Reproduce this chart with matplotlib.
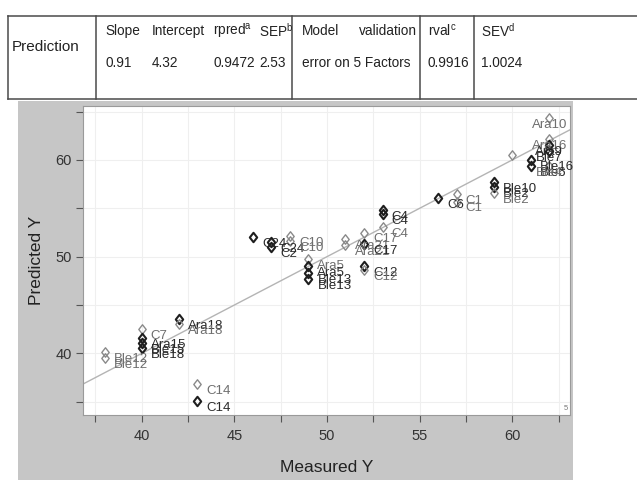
import matplotlib
matplotlib.use("Agg")
import matplotlib.pyplot as plt
from matplotlib.lines import Line2D
from matplotlib.patches import Rectangle
from matplotlib.path import Path
from matplotlib.ticker import MultipleLocator

W, H = 637, 480

# table above the plot
TABLE_HEAD = ["Slope", "Intercept", r"rpred$^{\rm a}$", r"SEP$^{\rm b}$"]
TABLE_VALS = ["0.91", "4.32", "0.9472", "2.53"]
VALID_HEAD = ["Model", "validation"]
VALID_TEXT = "error on 5 Factors"
RVAL_HEAD = r"rval$^{\rm c}$"
RVAL_VAL = "0.9916"
SEV_HEAD = r"SEV$^{\rm d}$"
SEV_VAL = "1.0024"

# scatter points: measured, predicted, sample label, group
MEASURED = [38, 38, 40, 40, 40, 40, 42, 42, 43, 43,
            46, 47, 47, 48, 48, 49, 49, 49, 49, 51, 51,
            52, 52, 52, 52, 53, 53, 53,
            56, 57, 57, 59, 59, 59, 60,
            62, 62, 62, 62, 61, 61, 62]
PREDICTED = [40.1, 39.5, 42.5, 41.6, 41.1, 40.6, 43.6, 43.0, 36.8, 35.1,
             52.0, 51.5, 51.0, 52.1, 51.6, 49.8, 49.0, 48.3, 47.7, 51.8, 51.2,
             52.5, 51.3, 49.0, 48.6, 54.8, 54.4, 53.1,
             56.1, 56.5, 55.7, 57.7, 57.2, 56.6, 60.5,
             64.3, 62.2, 61.5, 60.9, 60.0, 59.4, 59.4]
LABELS = ["Ble12", "Ble12", "C7", "Ara15", "Ble15", "Ble18", "Ara18", "Ara18", "C14", "C14",
          "C24", "C24", "C2", "C10", "C10", "Ara5", "Ara5", "Ble13", "Ble13", "Ara21", "Ara21",
          "C17", "C17", "C12", "C12", "C4", "C4", "C4",
          "C6", "C1", "C1", "Ble10", "Ble2", "Ble2", "",
          "Ara10", "Ara16", "Ara9", "Ble7", "Ble16", "Ble6", "Ble4"]
GROUP = ["light", "light", "light", "dark", "dark", "dark", "dark", "light", "light", "dark",
         "dark", "dark", "dark", "light", "light", "light", "dark", "dark", "dark", "light", "light",
         "light", "dark", "dark", "light", "dark", "dark", "light",
         "dark", "light", "light", "dark", "dark", "light", "light",
         "light", "light", "dark", "dark", "dark", "dark", "light"]

STYLE = {
    "dark": dict(edge="#1e1e1e", lw=1.5, text="#2a2a2a"),
    "light": dict(edge="#8a8a8a", lw=1.0, text="#6e6e6e"),
}


def fig_xy(x, y):
    return x / W, 1 - y / H


def hline(fig, x0, x1, y):
    a, b = fig_xy(x0, y), fig_xy(x1, y)
    fig.add_artist(Line2D([a[0], b[0]], [a[1], b[1]], color="#4a4a4a", lw=1.1))


def vline(fig, x, y0, y1):
    a, b = fig_xy(x, y0), fig_xy(x, y1)
    fig.add_artist(Line2D([a[0], b[0]], [a[1], b[1]], color="#4a4a4a", lw=1.1))


def draw_table(fig):
    top, bottom = 16, 99
    hline(fig, 8, W, top)
    hline(fig, 8, W, bottom)
    for x in [8, 96, 292, 420, 474]:
        vline(fig, x, top, bottom)

    kw = dict(fontsize=9.8, color="#222222", va="center")
    r1, r2 = 31, 63
    fig.text(*fig_xy(12, 47), "Prediction", ha="left", fontsize=11, color="#222222", va="center")
    for x, head, val in zip([105, 152, 213, 259], TABLE_HEAD, TABLE_VALS):
        fig.text(*fig_xy(x, r1), head, ha="left", **kw)
        fig.text(*fig_xy(x, r2), val, ha="left", **kw)
    fig.text(*fig_xy(302, r1), VALID_HEAD[0], ha="left", **kw)
    fig.text(*fig_xy(417, r1), VALID_HEAD[1], ha="right", **kw)
    fig.text(*fig_xy(302, r2), VALID_TEXT, ha="left", **kw)
    fig.text(*fig_xy(428, r1), RVAL_HEAD, ha="left", **kw)
    fig.text(*fig_xy(428, r2), RVAL_VAL, ha="left", **kw)
    fig.text(*fig_xy(481, r1), SEV_HEAD, ha="left", **kw)
    fig.text(*fig_xy(481, r2), SEV_VAL, ha="left", **kw)


def main():
    plt.rcParams["font.family"] = ["Liberation Sans", "DejaVu Sans"]
    plt.rcParams["mathtext.fontset"] = "custom"
    plt.rcParams["mathtext.rm"] = "Liberation Sans"

    fig = plt.figure(figsize=(W / 100, H / 100), dpi=100)
    fig.patch.set_facecolor("white")

    draw_table(fig)

    # gray panel behind the plot
    x0, y0 = fig_xy(18, 480)
    x1, y1 = fig_xy(573, 101)
    fig.add_artist(Rectangle((x0, y0), x1 - x0, y1 - y0, transform=fig.transFigure,
                             facecolor="#c6c6c6", edgecolor="none", zorder=0))

    left, right, top, bottom = 83, 570, 106, 415
    ax = fig.add_axes([left / W, 1 - bottom / H, (right - left) / W, (bottom - top) / H])
    ax.set_facecolor("white")
    ax.set_xlim(36.83, 63.12)
    ax.set_ylim(33.63, 65.58)

    ax.xaxis.set_major_locator(MultipleLocator(5))
    ax.xaxis.set_minor_locator(MultipleLocator(2.5))
    ax.yaxis.set_major_locator(MultipleLocator(10))
    ax.yaxis.set_minor_locator(MultipleLocator(5))
    ax.grid(which="both", color="#efefef", lw=0.8)
    ax.set_axisbelow(True)
    ax.tick_params(which="both", direction="out", length=5, width=0.8, color="#555555")
    ax.tick_params(axis="x", which="major", labelsize=10.5, labelcolor="#333333", pad=5)
    ax.tick_params(axis="y", which="major", labelsize=10.5, labelcolor="#333333", pad=3)
    for s in ax.spines.values():
        s.set_color("#9a9a9a")
        s.set_linewidth(0.8)

    ax.axline((40, 40), slope=1, color="#b4b4b4", lw=1.0, zorder=1)

    diamond = Path([(0, 1), (0.78, 0), (0, -1), (-0.78, 0), (0, 1)],
                   [Path.MOVETO, Path.LINETO, Path.LINETO, Path.LINETO, Path.CLOSEPOLY])

    for mx, py, lab, grp in zip(MEASURED, PREDICTED, LABELS, GROUP):
        st = STYLE[grp]
        ax.plot(mx, py, marker=diamond, markersize=6.8, markerfacecolor="none",
                markeredgecolor=st["edge"], markeredgewidth=st["lw"], linestyle="none", zorder=3)
        if not lab:
            continue
        if mx >= 61.5:
            offset, ha = (0, -5), "center"
        else:
            offset, ha = (6.5, -5), "left"
        ax.annotate(lab, (mx, py), xytext=offset, textcoords="offset points",
                    ha=ha, va="center", fontsize=9.5, color=st["text"], zorder=4)

    ax.text(0.995, 0.01, "5", transform=ax.transAxes, fontsize=5.5, color="#777777",
            ha="right", va="bottom")

    ax.set_xlabel("Measured Y", fontsize=12.5, color="#222222", labelpad=12)
    ax.set_ylabel("Predicted Y", fontsize=12.5, color="#222222", labelpad=8)

    fig.savefig("out.png", dpi=100)
    plt.close(fig)


if __name__ == "__main__":
    main()
